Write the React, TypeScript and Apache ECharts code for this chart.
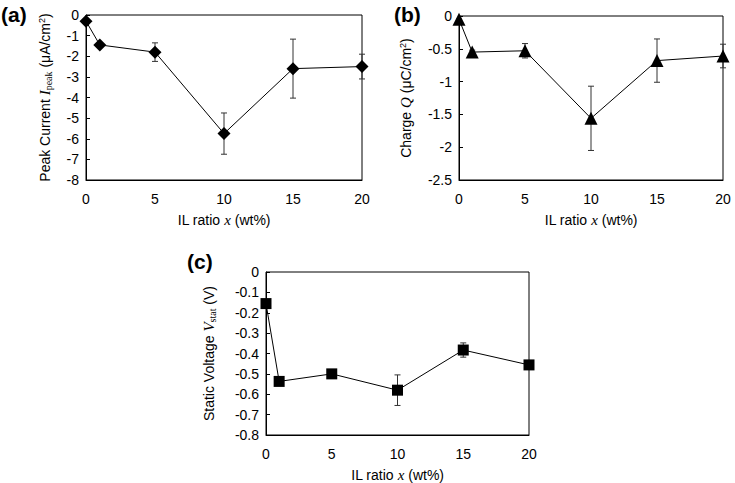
import React, { useEffect, useRef } from "react";
import * as echarts from "echarts";

const xValues = [0, 1, 5, 10, 15, 20];
const xTicks = [0, 5, 10, 15, 20];

const currentValues = [-0.3, -1.45, -1.8, -5.75, -2.6, -2.5];
const currentErrors = [0, 0.08, 0.45, 1.0, 1.43, 0.6];

const chargeValues = [-0.05, -0.55, -0.53, -1.56, -0.68, -0.61];
const chargeErrors = [0, 0.03, 0.11, 0.49, 0.33, 0.18];

const voltageValues = [-0.155, -0.537, -0.5, -0.58, -0.383, -0.456];
const voltageErrors = [0.02, 0.008, 0.008, 0.075, 0.035, 0.008];

const FONT = "'Liberation Sans', Arial, sans-serif";

function pairs(vals: number[]) {
  return xValues.map((x, i) => [x, vals[i]]);
}
function errData(vals: number[], errs: number[]) {
  return xValues.map((x, i) => [x, vals[i] - errs[i], vals[i] + errs[i]]);
}

const richName = {
  i: { fontFamily: "'Liberation Serif', 'Times New Roman', serif", fontStyle: "italic", fontSize: 15, color: "#000" },
  sub: { fontFamily: "'Liberation Serif', 'Times New Roman', serif", fontSize: 10, color: "#000", verticalAlign: "bottom", padding: [6, 0, 0, 0] },
  sup: { fontFamily: FONT, fontSize: 9, color: "#000", verticalAlign: "top", padding: [0, 0, 6, 0] },
};

function errSeries(idx: number, vals: number[], errs: number[]) {
  return {
    type: "custom",
    xAxisIndex: idx,
    yAxisIndex: idx,
    z: 2,
    silent: true,
    data: errData(vals, errs),
    renderItem: (params: any, api: any) => {
      const x = api.value(0);
      const lo = api.coord([x, api.value(1)]);
      const hi = api.coord([x, api.value(2)]);
      const c = 3;
      const style = { stroke: "#333", lineWidth: 1 };
      return {
        type: "group",
        children: [
          { type: "line", shape: { x1: lo[0], y1: lo[1], x2: hi[0], y2: hi[1] }, style },
          { type: "line", shape: { x1: lo[0] - c, y1: lo[1], x2: lo[0] + c, y2: lo[1] }, style },
          { type: "line", shape: { x1: hi[0] - c, y1: hi[1], x2: hi[0] + c, y2: hi[1] }, style },
        ],
      };
    },
  };
}

function lineSeries(idx: number, vals: number[], symbol: string, size: number) {
  return {
    type: "line",
    xAxisIndex: idx,
    yAxisIndex: idx,
    z: 3,
    data: pairs(vals),
    symbol,
    symbolSize: size,
    showSymbol: true,
    lineStyle: { color: "#000", width: 1 },
    itemStyle: { color: "#000" },
  };
}

function xAxis(idx: number) {
  return {
    type: "value",
    gridIndex: idx,
    min: xTicks[0],
    max: xTicks[xTicks.length - 1],
    interval: xTicks[1] - xTicks[0],
    name: "IL ratio {i|x} (wt%)",
    nameLocation: "middle",
    nameGap: 32,
    nameTextStyle: { fontFamily: FONT, fontSize: 14, color: "#000", rich: richName },
    axisLine: { show: true, onZero: false, lineStyle: { color: "#000", width: 1 } },
    axisTick: { show: false },
    splitLine: { show: false },
    axisLabel: { fontFamily: FONT, fontSize: 14, color: "#000", margin: 12 },
  };
}

function yAxis(idx: number, min: number, interval: number, name: string, gap: number) {
  return {
    type: "value",
    gridIndex: idx,
    min,
    max: 0,
    interval,
    name,
    nameLocation: "middle",
    nameGap: gap,
    nameTextStyle: { fontFamily: FONT, fontSize: 14, color: "#000", rich: richName },
    axisLine: { show: true, onZero: false, lineStyle: { color: "#000", width: 1 } },
    axisTick: { show: true, inside: true, length: 4, lineStyle: { color: "#000" } },
    splitLine: { show: false },
    axisLabel: { fontFamily: FONT, fontSize: 14, color: "#000", margin: 7 },
  };
}

export default function App() {
  const ref = useRef<HTMLDivElement>(null);
  useEffect(() => {
    if (!ref.current) return;
    const chart = echarts.init(ref.current, null, { renderer: "svg" });
    const gridStyle = { show: true, borderColor: "#000", borderWidth: 1, backgroundColor: "transparent" };
    chart.setOption({
      animation: false,
      backgroundColor: "#fff",
      grid: [
        { ...gridStyle, left: 86, top: 15, width: 276, height: 165 },
        { ...gridStyle, left: 459, top: 16, width: 264, height: 164 },
        { ...gridStyle, left: 266, top: 272, width: 263, height: 165 },
      ],
      xAxis: [xAxis(0), xAxis(1), xAxis(2)],
      yAxis: [
        yAxis(0, -8, 1, "Peak Current {i|I}{sub|peak} (μA/cm{sup|2})", 33),
        yAxis(1, -2.5, 0.5, "Charge {i|Q} (μC/cm{sup|2})", 46),
        yAxis(2, -0.8, 0.1, "Static Voltage {i|V}{sub|stat} (V)", 49),
      ],
      series: [
        errSeries(0, currentValues, currentErrors),
        lineSeries(0, currentValues, "diamond", 13),
        errSeries(1, chargeValues, chargeErrors),
        lineSeries(1, chargeValues, "triangle", 13),
        errSeries(2, voltageValues, voltageErrors),
        lineSeries(2, voltageValues, "rect", 11),
      ],
      graphic: [
        { type: "text", left: 1, top: 4, style: { text: "(a)", font: `bold 21px ${FONT}`, fill: "#000" } },
        { type: "text", left: 394, top: 4, style: { text: "(b)", font: `bold 21px ${FONT}`, fill: "#000" } },
        { type: "text", left: 187, top: 251, style: { text: "(c)", font: `bold 21px ${FONT}`, fill: "#000" } },
      ],
    });
    return () => chart.dispose();
  }, []);
  return (
    <div
      ref={ref}
      style={{ position: "absolute", left: 0, top: 0, width: 735, height: 483 }}
    />
  );
}
